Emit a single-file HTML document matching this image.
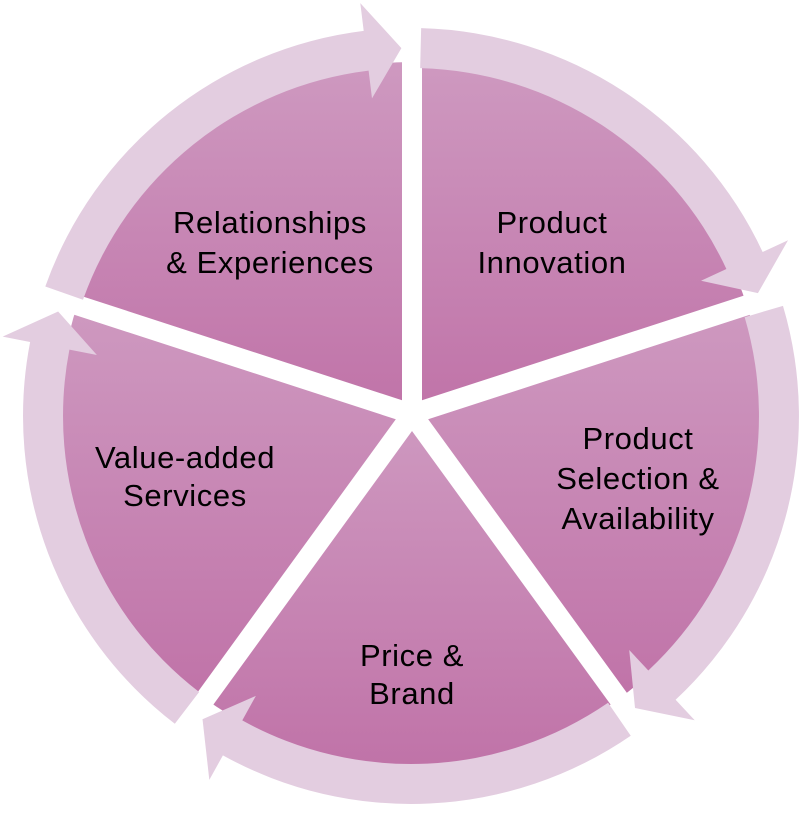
<!DOCTYPE html>
<html><head><meta charset="utf-8"><style>
html,body{margin:0;padding:0;background:#fff;width:808px;height:816px;overflow:hidden;}
svg{display:block;}
text{font-family:"Liberation Sans",sans-serif;font-size:31px;letter-spacing:0.6px;fill:#000;text-anchor:middle;}
</style></head><body>
<svg width="808" height="816" viewBox="0 0 808 816" xmlns="http://www.w3.org/2000/svg">
<defs>
<linearGradient id="g" x1="0" y1="0" x2="0" y2="1">
<stop offset="0" stop-color="#ce99c0"/><stop offset="1" stop-color="#c073a8"/>
</linearGradient>
</defs>
<g fill="url(#g)">
<path d="M412 414 L412 62 A352 352 0 0 1 746.8 305.2 Z"/>
<path d="M412 414 L746.8 305.2 A352 352 0 0 1 618.9 698.8 Z"/>
<path d="M412 414 L618.9 698.8 A352 352 0 0 1 205.1 698.8 Z"/>
<path d="M412 414 L205.1 698.8 A352 352 0 0 1 77.2 305.2 Z"/>
<path d="M412 414 L77.2 305.2 A352 352 0 0 1 412 62 Z"/>
</g>
<g stroke="#fff" stroke-width="20">
<line x1="412" y1="414" x2="412" y2="0"/>
<line x1="412" y1="414" x2="792" y2="290.5"/>
<line x1="412" y1="414" x2="647" y2="737.6"/>
<line x1="412" y1="414" x2="177" y2="737.6"/>
<line x1="412" y1="414" x2="32" y2="290.5"/>
</g>
<circle cx="412" cy="414" r="10" fill="#fff"/>
<g fill="#e3cde0">
<path id="arr" d="M45.3 286.5 A388 388 0 0 1 363.7 30.9 L360.3 3.1 L401.4 48.1 L372 98.4 L368.6 70.6 A348 348 0 0 0 83 299.8 Z"/>
<use href="#arr" transform="rotate(72 411 416)"/>
<use href="#arr" transform="rotate(144 411 416)"/>
<use href="#arr" transform="rotate(216 411 416)"/>
<use href="#arr" transform="rotate(288 411 416)"/>
</g>
<text x="270" y="233">Relationships</text>
<text x="270" y="273">&amp; Experiences</text>
<text x="552" y="233">Product</text>
<text x="552" y="273">Innovation</text>
<text x="638" y="449">Product</text>
<text x="638" y="489">Selection &amp;</text>
<text x="638" y="529">Availability</text>
<text x="412" y="666">Price &amp;</text>
<text x="412" y="704">Brand</text>
<text x="185" y="468">Value-added</text>
<text x="185" y="506">Services</text>
</svg>
</body></html>
